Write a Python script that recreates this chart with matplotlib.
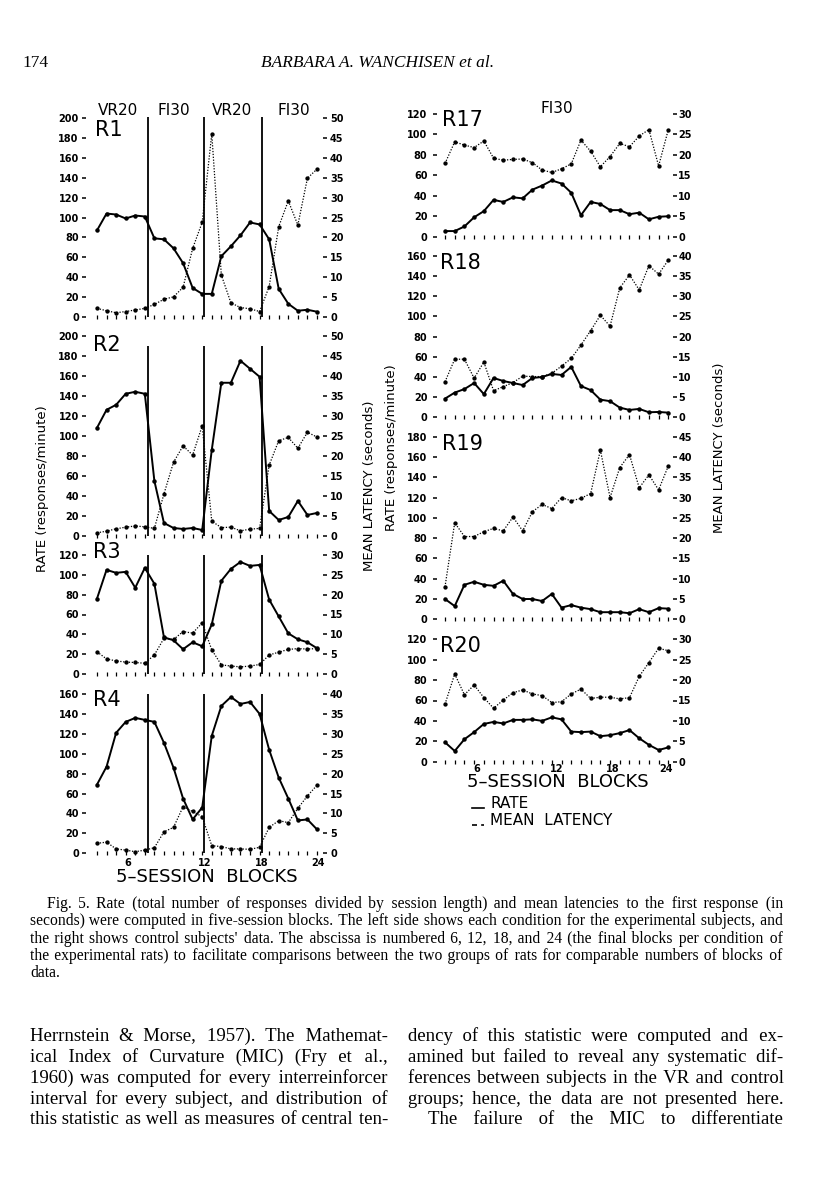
import numpy as np
import matplotlib.pyplot as plt
from matplotlib.lines import Line2D

# page size in pixels (saved at 100 dpi)
W, H = 816, 1193

# 5-session blocks
blocks = np.arange(1, 25)

# experimental rats (left column): rate (responses/minute) and mean latency (s)
r1_rate = [87, 104, 103, 99, 102, 101, 79, 78, 69, 54, 29, 23, 23, 61, 71, 82, 95, 93, 78, 28, 13, 6, 7, 5]
r1_lat = [2.1, 1.5, 1.0, 1.3, 1.7, 2.1, 3.1, 4.4, 5.0, 7.4, 17.2, 23.8, 46.1, 10.5, 3.5, 2.3, 2.0, 1.3, 7.6, 22.7, 29.2, 23.1, 34.9, 37.2]
r2_rate = [108, 126, 131, 142, 144, 142, 55, 13, 8, 7, 8, 6, 86, 153, 153, 175, 167, 159, 25, 16, 19, 35, 21, 23]
r2_lat = [0.8, 1.2, 1.8, 2.2, 2.5, 2.3, 1.9, 10.5, 18.4, 22.5, 20.2, 27.5, 3.7, 2.1, 2.2, 1.3, 1.7, 1.9, 17.7, 23.8, 24.6, 21.9, 25.9, 24.7]
r3_rate = [76, 105, 102, 103, 87, 107, 91, 37, 34, 25, 32, 28, 50, 94, 106, 113, 109, 110, 75, 58, 41, 35, 32, 26]
r3_lat = [5.6, 3.8, 3.3, 3.0, 2.9, 2.7, 4.8, 9.0, 8.7, 10.7, 10.3, 12.9, 6.1, 2.3, 2.0, 1.8, 2.0, 2.4, 4.8, 5.5, 6.2, 6.4, 6.3, 6.4]
r4_rate = [69, 87, 121, 132, 136, 134, 132, 111, 86, 55, 34, 46, 118, 148, 157, 150, 152, 140, 104, 76, 55, 33, 34, 24]
r4_lat = [2.5, 2.8, 1.1, 0.8, 0.4, 0.8, 1.4, 5.4, 6.5, 11.7, 10.5, 9.2, 1.9, 1.7, 1.1, 1.1, 1.0, 1.5, 6.5, 8.2, 7.7, 11.3, 14.4, 17.1]

# control rats (right column)
r17_rate = [5.5, 5.5, 10, 19, 25, 36, 34, 38.5, 37.5, 46, 50, 55, 52, 43, 21, 34, 32, 26, 26, 22, 23.5, 17, 19.5, 20]
r17_lat = [17.9, 23.2, 22.4, 21.8, 23.4, 19.2, 18.7, 18.9, 19.0, 18.1, 16.3, 15.7, 16.6, 17.8, 23.6, 20.9, 17.1, 19.6, 22.8, 22.0, 24.6, 26.2, 17.3, 26.2]
r18_rate = [18.5, 24.5, 28, 34, 23, 39, 36, 34, 32, 39, 40, 43, 42, 50, 31, 27, 17.5, 16, 9.6, 7.3, 8.3, 5, 5.3, 4.6]
r18_lat = [8.8, 14.4, 14.4, 9.7, 13.7, 6.6, 7.6, 8.6, 10.2, 10.1, 10.1, 10.9, 12.7, 14.6, 17.9, 21.5, 25.3, 22.6, 32.1, 35.3, 31.6, 37.6, 35.5, 39.0]
r19_rate = [20, 13, 34, 37, 34, 33, 38, 25, 20, 20, 18, 25, 11.5, 14, 11.5, 10, 7, 7, 7, 6, 10, 7, 11, 10.5]
r19_lat = [8.0, 23.8, 20.4, 20.4, 21.6, 22.4, 21.8, 25.2, 21.8, 26.5, 28.3, 27.3, 30.0, 29.2, 29.8, 31.0, 41.7, 30.0, 37.4, 40.6, 32.4, 35.6, 31.9, 37.8]
r20_rate = [19, 10.5, 22, 29, 37, 39, 37.5, 41, 41, 41.5, 40, 43.5, 41.5, 29.5, 29, 29.5, 25, 26, 28, 31, 23, 16.5, 11.5, 14]
r20_lat = [14.1, 21.5, 16.4, 18.8, 15.7, 13.1, 15.1, 16.9, 17.6, 16.6, 16.2, 14.5, 14.7, 16.6, 17.8, 15.5, 15.8, 15.8, 15.4, 15.7, 20.9, 24.3, 27.8, 27.2]

# condition changes and labels
change_points = [6.3, 12.2, 18.3]
conditions = ['VR20', 'FI30', 'VR20', 'FI30']
cond_x = [3.15, 9.07, 15.08, 21.6]
xtick_labels = ['6', '12', '18', '24']
xtick_left = [4.25, 12.3, 18.25, 24.1]
xtick_right = [4.27, 12.5, 18.3, 23.8]

fig = plt.figure(figsize=(W / 100, H / 100), dpi=100)
renderer = fig.canvas.get_renderer()


def fx(x):
    return x / W


def fy(y):
    return 1 - y / H


def ptext(x, y, s, **kw):
    return fig.text(fx(x), fy(y), s, **kw)


def panel(x0, x1, y_zero, y_top, xlim, rate, lat, rate_max, lat_max,
          lpad, rpad, vline_top=None):
    ax = fig.add_axes([fx(x0), fy(y_zero), (x1 - x0) / W, (y_zero - y_top) / H])
    ax2 = ax.twinx()
    ax.plot(blocks, rate, color='black', lw=1.4, marker='o', ms=2.2,
            clip_on=False, zorder=3)
    ax2.plot(blocks, lat, color='black', lw=0.9, ls=(0, (1, 1.3)),
             marker='o', ms=2.1, clip_on=False)
    ax.set_xlim(*xlim)
    ax.set_ylim(0, rate_max)
    ax2.set_ylim(0, lat_max)
    ax.set_yticks(np.arange(0, rate_max + 1, 20))
    ax2.set_yticks(np.arange(0, lat_max + 1, 5))
    ax.set_xticks(blocks)
    ax.set_xticklabels([])
    for a in (ax, ax2):
        for s in a.spines.values():
            s.set_visible(False)
        a.patch.set_visible(False)
    ax.tick_params(axis='x', direction='inout', length=3.2, width=0.9)
    ax.tick_params(axis='y', direction='out', length=2.8, width=1.1,
                   pad=lpad, labelsize=7)
    ax2.tick_params(axis='y', direction='out', length=2.9, width=1.1,
                    pad=rpad, labelsize=7)
    plt.setp(ax.get_yticklabels() + ax2.get_yticklabels(), fontweight='bold')
    if vline_top is not None:
        ax.vlines(change_points, 0, vline_top, color='black', lw=1.3,
                  clip_on=False)
    return ax


# left column (experimental subjects)
LX0, LX1, LXLIM = 85.7, 323.3, (-0.18, 24.66)
ax_r1 = panel(LX0, LX1, 316.7, 118.3, LXLIM, r1_rate, r1_lat, 200, 50, 2.2, 2.0, 201)
ax_r2 = panel(LX0, LX1, 536.0, 335.7, LXLIM, r2_rate, r2_lat, 200, 50, 2.2, 2.0, 190)
ax_r3 = panel(LX0, LX1, 674.0, 555.0, LXLIM, r3_rate, r3_lat, 120, 30, 2.2, 2.0, 120)
ax_r4 = panel(LX0, LX1, 853.3, 694.0, LXLIM, r4_rate, r4_lat, 160, 40, 2.2, 2.0, 160)

# right column (control subjects)
RX0, RX1, RXLIM = 437.3, 672.7, (0.207, 24.45)
ax_r17 = panel(RX0, RX1, 236.7, 114.0, RXLIM, r17_rate, r17_lat, 120, 30, 4.3, 1.2)
ax_r18 = panel(RX0, RX1, 417.3, 256.0, RXLIM, r18_rate, r18_lat, 160, 40, 4.3, 1.2)
ax_r19 = panel(RX0, RX1, 619.3, 436.7, RXLIM, r19_rate, r19_lat, 180, 45, 4.3, 1.2)
ax_r20 = panel(RX0, RX1, 761.7, 639.3, RXLIM, r20_rate, r20_lat, 120, 30, 4.3, 1.2)

# condition labels
for c, x in zip(conditions, cond_x):
    ax_r1.text(x, 207.8, c, ha='center', va='center', fontsize=11, clip_on=False)
ax_r17.text(12.5, 125.6, 'FI30', ha='center', va='center', fontsize=11, clip_on=False)

# subject labels
for name, x, y in [('R1', 95, 130), ('R2', 93.3, 345), ('R3', 93.3, 552),
                   ('R4', 93.3, 700.3), ('R17', 441.7, 120), ('R18', 440, 262.7),
                   ('R19', 441.7, 443.7), ('R20', 440, 646)]:
    ptext(x, y, name, fontsize=15, ha='left', va='center')

# abscissa numbers on bottom panels
for lab, xl, xr in zip(xtick_labels, xtick_left, xtick_right):
    ax_r4.annotate(lab, xy=(xl, 0), xycoords=('data', 'axes fraction'),
                   xytext=(0, -9.5), textcoords='offset pixels',
                   ha='center', va='center', fontsize=7, fontweight='bold')
    ax_r20.annotate(lab, xy=(xr, 0), xycoords=('data', 'axes fraction'),
                    xytext=(0, -7.5), textcoords='offset pixels',
                    ha='center', va='center', fontsize=7, fontweight='bold')

ptext(206.7, 876.7, '5–SESSION  BLOCKS', fontsize=13, ha='center', va='center')
ptext(557.5, 781.7, '5–SESSION  BLOCKS', fontsize=13, ha='center', va='center')

# axis titles
ptext(43, 489, 'RATE (responses/minute)', rotation=90, fontsize=9.5, ha='center', va='center')
ptext(369, 486, 'MEAN LATENCY (seconds)', rotation=90, fontsize=9.5, ha='center', va='center')
ptext(391, 448, 'RATE (responses/minute)', rotation=90, fontsize=9.5, ha='center', va='center')
ptext(719, 448, 'MEAN LATENCY (seconds)', rotation=90, fontsize=9.5, ha='center', va='center')

# key
fig.add_artist(Line2D([fx(472), fx(484)], [fy(808), fy(808)], color='black', lw=1.2))
fig.add_artist(Line2D([fx(472), fx(484)], [fy(825), fy(825)], color='black', lw=1.2,
                      ls=(0, (3, 2.5))))
ptext(490, 803.3, 'RATE', fontsize=11, ha='left', va='center')
ptext(490, 820.7, 'MEAN  LATENCY', fontsize=11, ha='left', va='center')

# page header
serif = dict(family=['Liberation Serif', 'DejaVu Serif'])
ptext(22, 67, '174', fontsize=12.5, ha='left', va='baseline', **serif)
ptext(378, 67, 'BARBARA A. WANCHISEN et al.', fontsize=12.5, style='italic',
      ha='center', va='baseline', **serif)

HAIR = '\u200a'


def str_width(s, size):
    t = fig.text(0, 0, s, fontsize=size, **serif)
    wd = t.get_window_extent(renderer).width
    t.remove()
    return wd


def set_block(lines, size):
    # one text per line; justify by padding the word gaps with hair spaces
    while max(str_width(s, size) - (x1 - x0)
              for s, x0, x1, yb, just in lines) > -4:
        size -= 0.25
    hw = (str_width('x' + HAIR * 40 + 'x', size) - str_width('xx', size)) / 40
    for s, x0, x1, yb, just in lines:
        words = s.split()
        if just and len(words) > 1 and hw > 0:
            extra = (x1 - x0) - str_width(' '.join(words), size)
            k = max(0, int(round(extra / hw)))
            gaps = len(words) - 1
            parts = []
            for i, w in enumerate(words[:-1]):
                n = k * (i + 1) // gaps - k * i // gaps
                parts.append(w + ' ' + HAIR * n)
            parts.append(words[-1])
            s = ''.join(parts)
        ptext(x0, yb, s, fontsize=size, ha='left', va='baseline', **serif)


caption = [
    ("Fig. 5.  Rate (total number of responses divided by session length) and mean latencies to the first response (in", 47, 783, 908, True),
    ("seconds) were computed in five-session blocks. The left side shows each condition for the experimental subjects, and", 30, 783, 925, True),
    ("the right shows control subjects' data. The abscissa is numbered 6, 12, 18, and 24 (the final blocks per condition of", 30, 783, 943, True),
    ("the experimental rats) to facilitate comparisons between the two groups of rats for comparable numbers of blocks of", 30, 783, 960, True),
    ("data.", 30, 783, 977, False),
]
set_block(caption, 12)

body = [
    ("Herrnstein & Morse, 1957). The Mathemat-", 30, 388, 1041, True),
    ("ical Index of Curvature (MIC) (Fry et al.,", 30, 388, 1062, True),
    ("1960) was computed for every interreinforcer", 30, 388, 1083, True),
    ("interval for every subject, and distribution of", 30, 388, 1104, True),
    ("this statistic as well as measures of central ten-", 30, 388, 1124, True),
    ("dency of this statistic were computed and ex-", 408, 783, 1041, True),
    ("amined but failed to reveal any systematic dif-", 408, 783, 1062, True),
    ("ferences between subjects in the VR and control", 408, 783, 1083, True),
    ("groups; hence, the data are not presented here.", 408, 783, 1104, True),
    ("The failure of the MIC to differentiate", 428, 783, 1124, True),
]
set_block(body, 15)

plt.savefig('out.png', dpi=100)
